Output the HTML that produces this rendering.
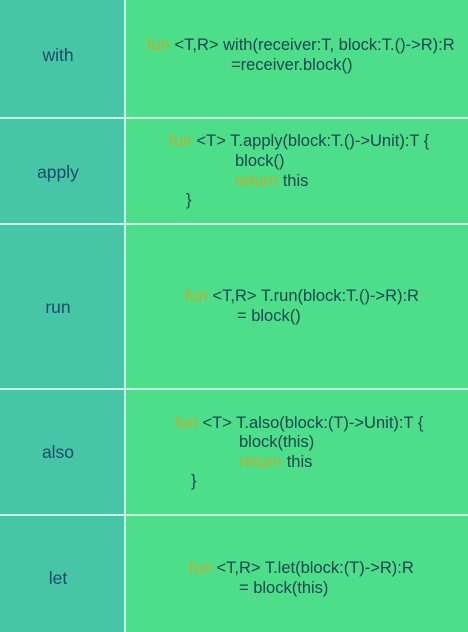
<!DOCTYPE html>
<html><head><meta charset="utf-8"><style>
body{margin:0;width:468px;height:632px;overflow:hidden;position:relative;background:#4cde88;font-family:"Liberation Sans","NanumGothic",sans-serif;}
.l{position:absolute;left:0;top:0;width:124px;height:632px;background:#46c5a7;}
.v{position:absolute;left:124px;top:0;width:2px;height:632px;background:#c9efe0;}
.h{position:absolute;left:0;width:468px;height:2px;background:#c9efe0;}
.t{position:absolute;font-size:16.5px;color:#1e4452;white-space:pre;line-height:19px;}
.k{color:#c2ac2c;}
.lab{position:absolute;width:116px;text-align:center;font-size:17.5px;color:#1d4a6a;line-height:19px;}
</style></head><body>
<div class="l"></div><div class="v"></div>
<div class="h" style="top:117px"></div>
<div class="h" style="top:223px"></div>
<div class="h" style="top:388px"></div>
<div class="h" style="top:514px"></div>
<div class="lab" style="top:46px">with</div>
<div class="lab" style="top:163px">apply</div>
<div class="lab" style="top:298px">run</div>
<div class="lab" style="top:443px">also</div>
<div class="lab" style="top:569px">let</div>

<div class="t" style="left:147px;top:36px"><span class="k">fun</span> &lt;T,R&gt; with(receiver:T, block:T.()-&gt;R):R</div>
<div class="t" style="left:231px;top:56px">=receiver.block()</div>

<div class="t" style="left:169px;top:132px"><span class="k">fun</span> &lt;T&gt; T.apply(block:T.()-&gt;Unit):T {</div>
<div class="t" style="left:235px;top:152px">block()</div>
<div class="t" style="left:235px;top:172px"><span class="k">return</span> this</div>
<div class="t" style="left:186px;top:191px">}</div>

<div class="t" style="left:185px;top:287px"><span class="k">fun</span> &lt;T,R&gt; T.run(block:T.()-&gt;R):R</div>
<div class="t" style="left:237px;top:307px">= block()</div>

<div class="t" style="left:175px;top:414px"><span class="k">fun</span> &lt;T&gt; T.also(block:(T)-&gt;Unit):T {</div>
<div class="t" style="left:239px;top:433px">block(this)</div>
<div class="t" style="left:239px;top:453px"><span class="k">return</span> this</div>
<div class="t" style="left:191px;top:472px">}</div>

<div class="t" style="left:189px;top:559px"><span class="k">fun</span> &lt;T,R&gt; T.let(block:(T)-&gt;R):R</div>
<div class="t" style="left:239px;top:579px">= block(this)</div>
</body></html>
